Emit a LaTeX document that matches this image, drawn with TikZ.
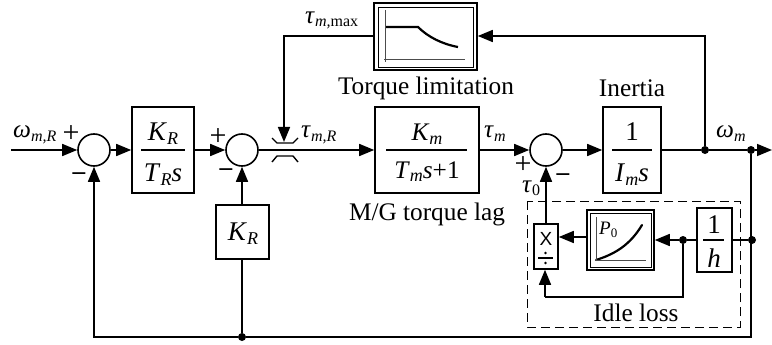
\documentclass[tikz,border=0pt]{standalone}
\usepackage{fontspec}
\setmainfont{Liberation Serif}
\setsansfont{Liberation Sans}
\usetikzlibrary{arrows.meta,calc}
\newcommand{\vi}[1]{\textit{#1}}
\newcommand{\subs}[2][-4pt]{\raisebox{#1}{\fontsize{18}{18}\selectfont #2}}
\newcommand{\subt}[1]{\raisebox{-3pt}{\fontsize{16}{16}\selectfont #1}}
\tikzset{
  conn/.style={line width=1.6pt},
  arr/.style={conn,-{Triangle[length=15pt,width=12pt]}},
  sumj/.style={circle,draw,line width=1.6pt,minimum size=32pt,inner sep=0pt},
  blockb/.style={draw,line width=1.6pt,inner sep=0pt},
  dotj/.style={circle,fill=black,minimum size=8pt,inner sep=0pt},
  lbl/.style={inner sep=0pt,font=\fontsize{25.3}{25}\selectfont},
  flbl/.style={inner sep=0pt,font=\fontsize{27}{27}\selectfont},
  sgn/.style={inner sep=0pt,font=\fontsize{30}{30}\selectfont},
  frac/.style={line width=1.3pt}
}
\newcommand{\boxat}[5]{\node[blockb,minimum width=#3 pt,minimum height=#4 pt] (#5) at (#1,#2) {};}
\begin{document}
\begin{tikzpicture}[x=1pt,y=-1pt]
\useasboundingbox (0,0) rectangle (772,345);
% sums
\node[sumj] (s1) at (94,150) {};
\node[sumj] (s2) at (242,150) {};
\node[sumj] (s3) at (546,150) {};
% blocks
\boxat{163}{150}{62}{86}{b1}
\boxat{427}{150}{104}{86}{b2}
\boxat{632}{150}{58}{86}{b3}
\boxat{242.5}{232}{53}{54}{kr}
\boxat{714.5}{240}{35}{64}{bh}
\boxat{546}{246.5}{24}{45}{prod}
% triple frames
\boxat{425.5}{36.5}{103}{67}{tl}
\draw[line width=.9pt] (378,7) rectangle (473,67);
\boxat{620.5}{240}{67}{60}{p0}
\draw[line width=.9pt] (590,213) rectangle (651,267);
% dashed
\draw[line width=1pt,dash pattern=on 9pt off 5pt] (527,201) rectangle (740,327);
% junctions
\node[dotj] (j1) at (705,150) {};
\node[dotj] (j2) at (751,150) {};
\node[dotj] (j3) at (752,240) {};
\node[dotj] (j4) at (683,240) {};
\node[dotj] (j5) at (242,337) {};
\coordinate (in) at (11,150);
\coordinate (out) at (772,150);
\coordinate (tlc) at (284,36);
\coordinate (limtop) at (284,142);
\coordinate (fbc) at (705,36);
\coordinate (bl) at (94,337);
\coordinate (br) at (751,337);
\coordinate (lpb) at (683,297);
\coordinate (lpl) at (545,297);
% connectors
\draw[arr] (in) -- (s1.west);
\draw[arr] (s1.east) -- (b1.west);
\draw[arr] (b1.east) -- (s2.west);
\draw[arr] (s2.east) -- (b2.west);
\draw[arr] (b2.east) -- (s3.west);
\draw[arr] (s3.east) -- (b3.west);
\draw[conn] (b3.east) -- (j1) -- (j2);
\draw[arr] (j2) -- (out);
\draw[arr] (j1) -- (fbc) -- (tl.east |- fbc);
\draw[arr] (tl.west |- tlc) -- (tlc) -- (limtop);
\draw[conn] (j2) -- (br) -- (j5);
\draw[arr] (j5) -- (bl) -- (s1.south);
\draw[conn] (j5) -- (kr.south -| j5);
\draw[arr] (kr.north -| s2) -- (s2.south);
\draw[conn] (j3) -- (bh.east |- j3);
\draw[conn] (bh.west |- j4) -- (j4);
\draw[arr] (j4) -- (p0.east);
\draw[arr] (p0.west |- 0,237) -- (prod.east |- 0,237);
\draw[conn] (j4) -- (lpb) -- (lpl);
\draw[arr] (lpl) -- (prod.south -| lpl);
\draw[arr] (prod.north) -- (s3.south);
% limiter symbol
\draw[line width=1.4pt] (272,138) -- (277,143) -- (293,143) -- (298,138);
\draw[line width=1.4pt] (272,162) -- (277,156) -- (293,156) -- (298,162);
% curves
\draw[line width=2.2pt] (385,27) -- (418,27) .. controls (428,37) and (442,44) .. (458,47);
\draw[line width=1pt,black!70] (385,10) -- (385,62);
\draw[line width=1pt,black!70] (384,60) -- (465,60);
\draw[line width=2.2pt,line cap=round] (596,260) .. controls (615,254) and (630,245) .. (642,225);
\draw[line width=1pt,black!70] (596,217) -- (596,261);
\draw[line width=1pt,black!70] (595,260) -- (646,260);
% fractions
\draw[frac] (141,150) -- (185,150);
\draw[frac] (386,150) -- (467,150);
\draw[frac] (612,150) -- (652,150);
\draw[frac] (703,240) -- (724,240);
\draw[frac] (538,258) -- (553,258);
% labels
\node[lbl,anchor=base west] at (13,138) {\vi{ω}\subt{\vi{m,R}}};
\node[sgn] at (71,134) {+};
\node[lbl] at (79,176) {\textbf{–}};
\node[sgn] at (218,137) {+};
\node[lbl] at (226,172) {\textbf{–}};
\node[lbl,anchor=base west] at (301,138) {\vi{τ}\subt{\vi{m,R}}};
\node[lbl,anchor=base west] at (305,24) {\vi{τ}\subt{\vi{m,}max}};
\node[lbl] at (426,88) {Torque limitation};
\node[lbl] at (632,88) {Inertia};
\node[flbl,anchor=base] at (163,140) {\vi{K}\subs{\vi{R}}};
\node[flbl,anchor=base] at (163,181) {\vi{T}\subs{\vi{R}}\vi{s}};
\node[lbl,anchor=base] at (427,140) {\vi{K}\subs{\vi{m}}};
\node[lbl,anchor=base] at (427,178) {\vi{T}\subs{\vi{m}}\vi{s}+1};
\node[flbl,anchor=base] at (632,140) {1};
\node[flbl,anchor=base] at (632,181) {\vi{I}\subs{\vi{m}}\vi{s}};
\node[flbl,anchor=base] at (243,240) {\vi{K}\subs{\vi{R}}};
\node[flbl,anchor=base] at (714,233) {1};
\node[flbl,anchor=base] at (714,267) {\vi{h}};
\node[lbl,anchor=base west] at (484,138) {\vi{τ}\subt{\vi{m}}};
\node[lbl,anchor=base west] at (716,138) {\vi{ω}\subt{\vi{m}}};
\node[sgn] at (523,165) {+};
\node[lbl] at (563,177) {\textbf{–}};
\node[lbl,anchor=base west] at (522,192) {\vi{τ}\subt{0}};
\node[lbl] at (427,214) {M/G torque lag};
\node[lbl] at (636,313) {Idle loss};
\node[inner sep=0pt,anchor=base west,font=\fontsize{19}{19}\selectfont] at (599,234) {\vi{P}\raisebox{-3pt}{\fontsize{13}{13}\selectfont 0}};
\node[inner sep=0pt,font=\fontsize{19}{19}\selectfont\sffamily] at (546,238.5) {X};
\fill (545.5,253) circle (1.4pt);
\fill (545.5,263) circle (1.4pt);
\end{tikzpicture}
\end{document}
